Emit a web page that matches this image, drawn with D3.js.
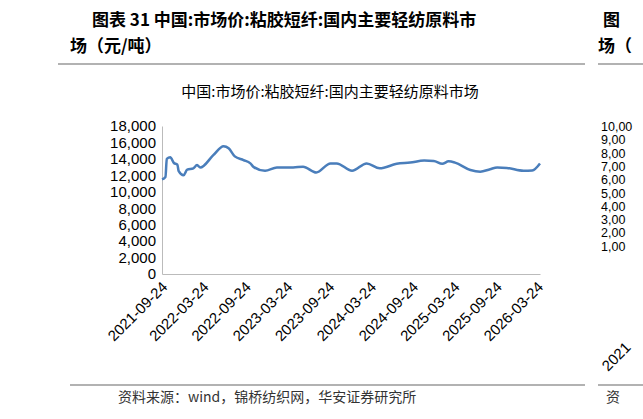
<!DOCTYPE html><html><head><meta charset="utf-8"><script src="https://cdn.jsdelivr.net/npm/d3@7"></script>
<style>body{margin:0;background:#fff}</style></head><body><svg id="c" width="643" height="419"></svg><script>
const dates=["2021-09-24","2021-10-09","2021-10-15","2021-10-30","2021-11-15","2021-11-30","2021-12-06","2021-12-27","2022-01-12","2022-02-08","2022-02-24","2022-03-10","2022-05-06","2022-06-20","2022-07-12","2022-08-08","2022-09-15","2022-10-15","2022-10-30","2022-12-18","2023-02-08","2023-04-20","2023-06-02","2023-07-30","2023-09-30","2023-10-27","2024-01-02","2024-03-06","2024-05-02","2024-07-15","2024-09-12","2024-11-12","2024-12-24","2025-01-30","2025-02-27","2025-03-27","2025-06-02","2025-07-15","2025-08-27","2025-09-27","2025-11-08","2026-01-20","2026-02-27","2026-04-02"];
const prices=[11500,11800,14000,14200,13500,13300,12500,12000,12700,12850,13250,12950,14450,15550,15300,14300,13850,13450,13000,12550,12950,12950,13050,12350,13450,13450,12550,13450,12850,13400,13550,13800,13750,13400,13700,13550,12650,12450,12750,12950,12900,12550,12600,13450];
const yTicks=[0,2000,4000,6000,8000,10000,12000,14000,16000,18000];
const xTicks=["2021-09-24","2022-03-24","2022-09-24","2023-03-24","2023-09-24","2024-03-24","2024-09-24","2025-03-24","2025-09-24","2026-03-24"];
const rightTicks=["10,00","9,00","8,00","7,00","6,00","5,00","4,00","3,00","2,00","1,00"];
const svg=d3.select("#c"),P=d3.timeParse("%Y-%m-%d");
const cjk="'Noto Sans CJK SC',sans-serif",lat="'Liberation Sans',Arial,sans-serif";
svg.append("text").attr("x",92).attr("y",26).attr("font-family",cjk).attr("font-weight","bold").attr("font-size",17).text("图表 31 中国:市场价:粘胶短纤:国内主要轻纺原料市");
svg.append("text").attr("x",70).attr("y",52).attr("font-family",cjk).attr("font-weight","bold").attr("font-size",17).text("场（元/吨）");
svg.append("text").attr("x",603).attr("y",26).attr("font-family",cjk).attr("font-weight","bold").attr("font-size",17).text("图");
svg.append("text").attr("x",598).attr("y",52).attr("font-family",cjk).attr("font-weight","bold").attr("font-size",17).text("场（");
svg.append("line").attr("x1",58).attr("x2",585).attr("y1",64).attr("y2",64).attr("stroke","#999").attr("stroke-width",1.5);
svg.append("line").attr("x1",598).attr("x2",643).attr("y1",64).attr("y2",64).attr("stroke","#999").attr("stroke-width",1.5);
svg.append("text").attr("x",330).attr("y",97).attr("text-anchor","middle").attr("font-family",cjk).attr("font-size",15).text("中国:市场价:粘胶短纤:国内主要轻纺原料市场");
const x=d3.scaleTime().domain([P("2021-09-24"),P("2026-04-02")]).range([162,540]);
const y=d3.scaleLinear().domain([0,18000]).range([274,126]);
const ya=svg.append("g").attr("transform","translate(162,0)").call(d3.axisLeft(y).tickValues(yTicks).tickSize(0).tickPadding(6).tickFormat(d3.format(",")));
ya.select(".domain").attr("stroke","#bbb");ya.selectAll("text").attr("font-family",lat).attr("font-size",15).attr("fill","#000");
const xa=svg.append("g").attr("transform","translate(0,274)").call(d3.axisBottom(x).tickValues(xTicks.map(P)).tickSize(0).tickFormat(d3.timeFormat("%Y-%m-%d")));
xa.select(".domain").attr("stroke","#bbb");
xa.selectAll("text").attr("font-family",lat).attr("font-size",15).attr("fill","#000").attr("text-anchor","end").attr("dy","0.35em").attr("transform","translate(0,8) rotate(-45)");
svg.append("path").datum(dates.map((d,i)=>[P(d),prices[i]])).attr("fill","none").attr("stroke","#4a7ebb").attr("stroke-width",2.5)
 .attr("d",d3.line().x(d=>x(d[0])).y(d=>y(d[1])).curve(d3.curveMonotoneX));
rightTicks.forEach((t,i)=>svg.append("text").attr("x",601).attr("y",131+i*13.3).attr("font-family",lat).attr("font-size",12.5).text(t));
svg.append("text").attr("transform","translate(608,372) rotate(-45)").attr("font-family",lat).attr("font-size",15).text("2021");
svg.append("line").attr("x1",70).attr("x2",585).attr("y1",385).attr("y2",385).attr("stroke","#999").attr("stroke-width",1.5);
svg.append("line").attr("x1",598).attr("x2",643).attr("y1",385).attr("y2",385).attr("stroke","#999").attr("stroke-width",1.5);
svg.append("text").attr("x",118).attr("y",402).attr("font-family",cjk).attr("font-size",14).attr("fill","#333").text("资料来源：wind，锦桥纺织网，华安证券研究所");
svg.append("text").attr("x",606).attr("y",402).attr("font-family",cjk).attr("font-size",14).attr("fill","#333").text("资");
</script></body></html>
